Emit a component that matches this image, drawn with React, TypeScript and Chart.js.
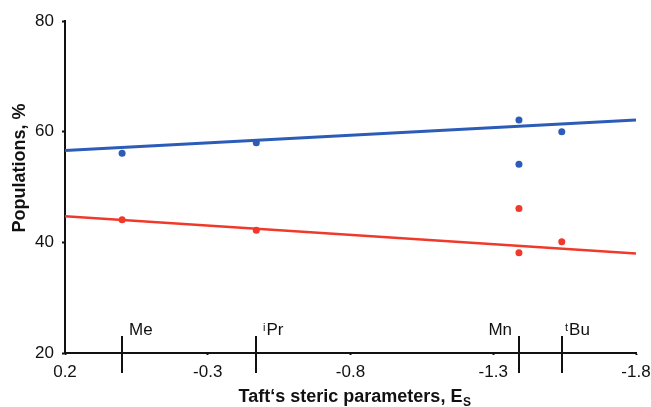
import React, { useEffect, useRef } from "react";
import { Chart, registerables } from "chart.js";

Chart.register(...registerables);

// Substituents and their Taft steric parameters (Es)
const substituents = ["Me", "Pr", "Mn", "Bu"];
const substituentSup = ["", "i", "", "t"];
const substituentEs = [0.0, -0.47, -1.39, -1.54];

// Measured points (Mn has two points per series)
const pointEs = [0.0, -0.47, -1.39, -1.39, -1.54];
const bluePopulations = [56.1, 58.0, 62.1, 54.1, 60.0];
const redPopulations = [44.1, 42.2, 46.1, 38.1, 40.1];

// Linear fit lines, evaluated at the axis ends
const fitEs = [0.2, -1.8];
const blueFit = [56.6, 62.1];
const redFit = [44.7, 38.0];

// Tick values
const xTicks = [0.2, -0.3, -0.8, -1.3, -1.8];
const yTicks = [20, 40, 60, 80];

const BLUE = "#2b5cb8";
const RED = "#f0392b";
const FONT = "'Liberation Sans', Arial, sans-serif";

const overlayPlugin = {
  id: "overlay",
  afterDraw(chart: any) {
    const ctx = chart.ctx as CanvasRenderingContext2D;
    const xs = chart.scales.x;
    const ca = chart.chartArea;
    const axisY = ca.bottom;
    ctx.save();
    // substituent markers
    ctx.strokeStyle = "#111";
    ctx.lineWidth = 2;
    ctx.fillStyle = "#111";
    substituentEs.forEach((es, i) => {
      const px = Math.round(xs.getPixelForValue(es));
      ctx.beginPath();
      ctx.moveTo(px, axisY - 17);
      ctx.lineTo(px, axisY + 20);
      ctx.stroke();
      const name = substituents[i];
      const sup = substituentSup[i];
      const base = axisY - 18;
      ctx.textBaseline = "alphabetic";
      if (name === "Mn") {
        ctx.font = `17px ${FONT}`;
        ctx.textAlign = "right";
        ctx.fillText(name, px - 7, base);
      } else {
        let tx = px + (sup === "t" ? 3 : 7);
        ctx.textAlign = "left";
        if (sup) {
          ctx.font = `11px ${FONT}`;
          ctx.fillText(sup, tx, base - 4);
          tx += ctx.measureText(sup).width + 1;
        }
        ctx.font = `17px ${FONT}`;
        ctx.fillText(name, tx, base);
      }
    });

    // X axis title with subscript
    const main = "Taft\u2018s steric parameters, E";
    const sub = "S";
    ctx.font = `bold 18px ${FONT}`;
    const wMain = ctx.measureText(main).width;
    ctx.font = `bold 12px ${FONT}`;
    const wSub = ctx.measureText(sub).width;
    const cx = (ca.left + ca.right) / 2 + 4;
    const sx = cx - (wMain + wSub) / 2;
    ctx.textAlign = "left";
    ctx.font = `bold 18px ${FONT}`;
    ctx.fillText(main, sx, 402);
    ctx.font = `bold 12px ${FONT}`;
    ctx.fillText(sub, sx + wMain + 0.5, 406);

    // Y axis title
    ctx.translate(25, 168);
    ctx.rotate(-Math.PI / 2);
    ctx.textAlign = "center";
    ctx.font = `bold 18px ${FONT}`;
    ctx.fillText("Populations, %", 0, 0);
    ctx.restore();
  },
};

export default function App() {
  const ref = useRef<HTMLCanvasElement | null>(null);
  useEffect(() => {
    if (!ref.current) return;
    const pts = (ys: number[]) => pointEs.map((x, i) => ({ x, y: ys[i] }));
    const fit = (ys: number[]) => fitEs.map((x, i) => ({ x, y: ys[i] }));
    const chart = new Chart(ref.current, {
      type: "scatter",
      data: {
        datasets: [
          {
            type: "line",
            data: fit(blueFit),
            borderColor: BLUE,
            borderWidth: 3,
            pointRadius: 0,
            fill: false,
          } as any,
          {
            type: "line",
            data: fit(redFit),
            borderColor: RED,
            borderWidth: 2.5,
            pointRadius: 0,
            fill: false,
          } as any,
          {
            data: pts(bluePopulations),
            backgroundColor: BLUE,
            borderColor: BLUE,
            pointRadius: 3.5,
            borderWidth: 0,
          },
          {
            data: pts(redPopulations),
            backgroundColor: RED,
            borderColor: RED,
            pointRadius: 3.5,
            borderWidth: 0,
          },
        ],
      },
      options: {
        responsive: false,
        animation: false,
        layout: { padding: { left: 0, top: 21, right: 15, bottom: 0 } },
        plugins: {
          legend: { display: false },
          tooltip: { enabled: false },
        },
        scales: {
          x: {
            type: "linear",
            reverse: true,
            min: -1.8,
            max: 0.2,
            afterBuildTicks: (s: any) => {
              s.ticks = xTicks.map((v) => ({ value: v }));
            },
            afterFit: (s: any) => {
              s.height = 54;
              s.paddingLeft = 0;
              s.paddingRight = 0;
            },
            ticks: {
              color: "#111",
              font: { family: FONT, size: 17 },
              padding: 7,
              callback: (v: any) => Number(v).toFixed(1),
              maxRotation: 0,
              autoSkip: false,
            },
            grid: {
              display: true,
              drawOnChartArea: false,
              drawTicks: true,
              tickLength: 2,
              tickWidth: 2,
              tickColor: "#111",
            },
            border: { display: true, color: "#111", width: 2 },
          },
          y: {
            type: "linear",
            min: 20,
            max: 80,
            afterBuildTicks: (s: any) => {
              s.ticks = yTicks.map((v) => ({ value: v }));
            },
            afterFit: (s: any) => {
              s.width = 65;
              s.paddingTop = 0;
              s.paddingBottom = 0;
            },
            ticks: {
              color: "#111",
              font: { family: FONT, size: 17 },
              padding: 8,
            },
            grid: {
              display: true,
              drawOnChartArea: false,
              drawTicks: true,
              tickLength: 3,
              tickWidth: 2,
              tickColor: "#111",
            },
            border: { display: true, color: "#111", width: 2 },
          },
        },
      },
      plugins: [overlayPlugin],
    });
    return () => chart.destroy();
  }, []);
  return (
    <div style={{ position: "fixed", left: 0, top: 0, width: 651, height: 407, background: "#fff" }}>
      <canvas ref={ref} width={651} height={407} style={{ display: "block" }} />
    </div>
  );
}
